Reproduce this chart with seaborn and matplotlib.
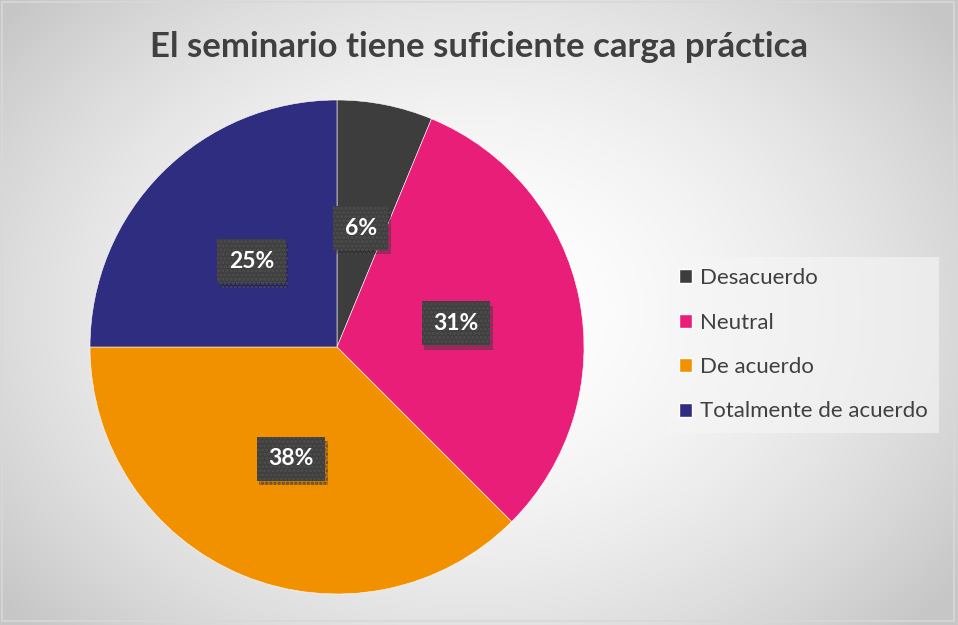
import numpy as np
import matplotlib
matplotlib.use("Agg")
import matplotlib.pyplot as plt
import matplotlib.patheffects as pe
import seaborn as sns

categories = ["Desacuerdo", "Neutral", "De acuerdo", "Totalmente de acuerdo"]
counts = [1, 5, 6, 4]
labels_pct = ["6%", "31%", "38%", "25%"]
colors = ["#3D3D3D", "#E91E78", "#F29100", "#2E2D7F"]
title = "El seminario tiene suficiente carga práctica"

sns.set_theme(style="white")
plt.rcParams['font.family'] = ['Lato', 'DejaVu Sans']
plt.rcParams['hatch.linewidth'] = 1.5

W, H = 958, 625
fig = plt.figure(figsize=(W / 100, H / 100), dpi=100)

# radial gradient background
bg = fig.add_axes([0, 0, 1, 1], zorder=-10)
yy, xx = np.mgrid[0:H, 0:W]
cx, cy = 470, 310
d = np.sqrt(((xx - cx) / 600.0) ** 2 + ((yy - cy) / 460.0) ** 2)
d = np.clip(d, 0, 1)
val = 1.0 - 0.22 * d ** 1.8
img = np.dstack([val, val, val])
bg.imshow(img, extent=[0, W, H, 0], aspect="auto", interpolation="bilinear")
bg.set_xlim(0, W)
bg.set_ylim(H, 0)
bg.add_patch(plt.Rectangle((2, 2), W - 6, H - 6, fill=False, edgecolor="#d8d8d8", lw=1.2))
bg.axis("off")

# pie axes
cxp, cyp, r = 337, 347, 247
half = 250
ax = fig.add_axes([(cxp - half) / W, (H - cyp - half) / H, 2 * half / W, 2 * half / H])
ax.set_facecolor("none")
lim = half / r
wedges, _ = ax.pie(counts, colors=colors, startangle=90, counterclock=False,
                   radius=1.0, wedgeprops=dict(edgecolor="white", linewidth=0.4))
ax.set_xlim(-lim, lim)
ax.set_ylim(-lim, lim)
ax.set_aspect("equal")
ax.axis("off")

total = sum(counts)
cum = 0
for c, lab in zip(counts, labels_pct):
    mid = 90 - 360 * (cum + c / 2) / total
    cum += c
    x = 0.49 * np.cos(np.radians(mid))
    y = 0.49 * np.sin(np.radians(mid))
    t = ax.text(x, y, lab, ha="center", va="center", color="white",
                fontsize=16.5, fontweight="bold",
                bbox=dict(boxstyle="square,pad=0.5", facecolor="#3f3f3f",
                          edgecolor="#4e4e4e", linewidth=0, hatch="...."))
    t.get_bbox_patch().set_path_effects([pe.withSimplePatchShadow(offset=(2, -3), shadow_rgbFace="black", alpha=0.18), pe.Normal()])

# legend
handles = [plt.Rectangle((0, 0), 1, 1, facecolor=col) for col in colors]
leg = fig.legend(handles, categories, loc="upper left",
                 bbox_to_anchor=(668 / W, 1 - 257 / H),
                 frameon=True, fontsize=16, labelcolor="#404040",
                 handlelength=0.6, handleheight=0.6, handletextpad=0.35,
                 labelspacing=1.1, borderpad=0.5, fancybox=False,
                 borderaxespad=0)
leg.get_frame().set_facecolor("#f6f6f6")
leg.get_frame().set_alpha(0.6)
leg.get_frame().set_linewidth(0)

fig.text(479 / W, 1 - 47 / H, title, ha="center", va="center",
         fontsize=25, fontweight="bold", color="#404040")

fig.savefig("out.png", dpi=100)
